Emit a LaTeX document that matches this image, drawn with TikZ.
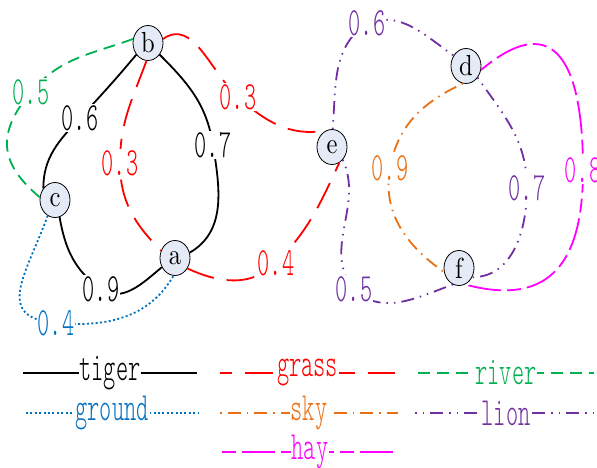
\documentclass[tikz,border=0pt]{standalone}
\usepackage{fontspec}
\usetikzlibrary{shapes.geometric}
\newfontfamily\lblfamily{lmmonolt10-regular.otf}[FakeStretch=0.58]
\newfontfamily\vtxfamily{lmroman10-regular.otf}[FakeStretch=0.85]
\definecolor{vtxfill}{RGB}{228,235,246}
\definecolor{grassred}{RGB}{255,0,0}
\definecolor{rivergreen}{RGB}{0,176,80}
\definecolor{groundblue}{RGB}{0,112,192}
\definecolor{skyorange}{RGB}{234,112,20}
\definecolor{lionpurple}{RGB}{112,48,160}
\definecolor{haymagenta}{RGB}{255,0,255}
\begin{document}
\begin{tikzpicture}[x=1pt,y=1pt,
  vtx/.style={ellipse,draw=black,line width=0.8pt,fill=vtxfill,
    minimum width=30pt,minimum height=35pt,inner sep=0pt,
    font=\vtxfamily\fontsize{29}{31}\selectfont},
  lbl/.style={fill=white,inner sep=1pt,
    font=\lblfamily\fontsize{40}{42}\selectfont},
  lnbase/.style={line width=1.8pt},
  tigerln/.style={lnbase,color=black},
  grassln/.style={lnbase,color=grassred,dash pattern=on 28pt off 13pt},
  riverln/.style={lnbase,color=rivergreen,dash pattern=on 12pt off 7pt},
  groundln/.style={lnbase,color=groundblue,dash pattern=on 2pt off 2.4pt},
  skyln/.style={lnbase,color=skyorange,dash pattern=on 1.5pt off 6pt on 13pt off 6pt},
  lionln/.style={lnbase,color=lionpurple,dash pattern=on 1.5pt off 6pt on 1.5pt off 6pt on 13pt off 6pt},
  hayln/.style={lnbase,color=haymagenta,dash pattern=on 14pt off 6pt on 33pt off 6pt},
]
\useasboundingbox (0,0) rectangle (597,468);

% vertices
\node[vtx] (b) at (148,425) {b};
\node[vtx] (c) at (55,268) {c};
\node[vtx] (a) at (175,210) {a};
\node[vtx] (e) at (332,321) {e};
\node[vtx] (d) at (466,402) {d};
\node[vtx] (f) at (459,200) {f};

% tiger
\draw[tigerln] (b.225) to[out=230,in=47] (80,350) node[lbl]{0.6}
  to[out=227,in=90] (c.135);
\draw[tigerln] (b.-45) to[out=-45,in=99] (213,323) node[lbl]{0.7}
  to[out=-81,in=30] (a.20);
\draw[tigerln] (c.-75) to[out=-80,in=145] (101,179) node[lbl]{0.9}
  to[out=-35,in=220] (a.215);

% grass
\draw[grassln] (b.-95) to[out=250,in=90] (120,305) node[lbl]{0.3}
  to[out=270,in=135] (a.152);
\draw[grassln] (b.15) to[out=35,in=138] (238,371) node[lbl]{0.3}
  to[out=-42,in=190] (e.110);
\draw[grassln] (a.-40) to[out=-25,in=225] (276,205) node[lbl]{0.4}
  to[out=45,in=245] (e.-65);

% river
\draw[riverln] (b.165) to[out=200,in=50] (31,376) node[lbl]{0.5}
  to[out=230,in=140,looseness=1.3] (c.170);

% ground
\draw[groundln] (c.245) to[out=250,in=175,looseness=1.5] (56,145) node[lbl]{0.4}
  to[out=-5,in=240] (a.265);

% sky
\draw[skyln] (d.-100) to[out=205,in=80] (390,300) node[lbl]{0.9}
  to[out=260,in=145] (f.195);

% lion
\draw[lionln] (e.88) to[out=85,in=215] (367,445) node[lbl]{0.6}
  to[out=20,in=145] (d.140);
\draw[lionln] (d.-45) to[out=-55,in=90] (527,280) node[lbl]{0.7}
  to[out=270,in=0] (f.-35);
\draw[lionln] (e.-50) to[out=-65,in=130] (354,179) node[lbl]{0.5}
  to[out=-45,in=200] (f.-110);

% hay
\draw[hayln] (d.-15) to[out=40,in=90,looseness=1.8] (583,298) node[lbl]{0.8}
  to[out=270,in=-15,looseness=1.4] (f.-70);

% legend
\coordinate (tgL) at (23,95);  \coordinate (tgR) at (197,95);
\coordinate (gsL) at (220,95); \coordinate (gsR) at (395,95);
\coordinate (rvL) at (418,95); \coordinate (rvR) at (594,95);
\coordinate (gdL) at (26,55);  \coordinate (gdR) at (198,55);
\coordinate (skL) at (220,55); \coordinate (skR) at (398,55);
\coordinate (lnL) at (415,55); \coordinate (lnR) at (597,55);
\coordinate (hyL) at (222,16); \coordinate (hyR) at (398,16);
\draw[tigerln] (tgL) -- node[lbl]{tiger} (tgR);
\draw[grassln,dash phase=16pt] (gsL) -- node[lbl]{grass} (gsR);
\draw[riverln] (rvL) -- node[lbl]{river} (rvR);
\draw[groundln] (gdL) -- node[lbl]{ground} (gdR);
\draw[skyln] (skL) -- node[lbl]{sky} (skR);
\draw[lionln] (lnL) -- node[lbl]{lion} (lnR);
\draw[hayln] (hyL) -- node[lbl]{hay} (hyR);
\end{tikzpicture}
\end{document}
